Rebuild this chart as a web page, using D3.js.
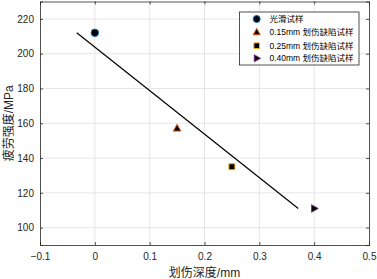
<!DOCTYPE html>
<html><head><meta charset="utf-8">
<script src="https://cdn.jsdelivr.net/npm/d3@7"></script>
<style>body{margin:0;background:#fff;}svg{display:block;}</style>
</head><body>
<svg id="c" width="377" height="279"></svg>
<script>
const seriesNames = ["光滑试样", "0.15mm 划伤缺陷试样", "0.25mm 划伤缺陷试样", "0.40mm 划伤缺陷试样"];
const depths = [0, 0.15, 0.25, 0.40];
const strengths = [212, 157, 135, 111];
const markerTypes = ["circle", "triangleUp", "square", "triangleRight"];
const edgeColors = ["#0072BD", "#D95319", "#EDB120", "#7E2F8E"];
const fitX = [-0.033, 0.371];
const fitY = [212, 111];
const xTicks = [-0.1, 0, 0.1, 0.2, 0.3, 0.4, 0.5];
const yTicks = [100, 120, 140, 160, 180, 200, 220];

const svg = d3.select("#c");
const L = 40, R = 369, T = 1.5, B = 245;
const x = d3.scaleLinear().domain([-0.1, 0.5]).range([L, R]);
const y = d3.scaleLinear().domain([90, 230]).range([B, T]);
const axisColor = "#262626";
const tickFont = "Liberation Sans, Arial, sans-serif";
const cjkFont = "Liberation Sans, 'Noto Sans CJK SC', sans-serif";

// grid
const g = svg.append("g");
g.selectAll(".gx").data(xTicks.slice(1, -1)).join("line")
  .attr("x1", d => x(d)).attr("x2", d => x(d)).attr("y1", T).attr("y2", B)
  .attr("stroke", "#e6e6e6").attr("stroke-width", 1);
g.selectAll(".gy").data(yTicks).join("line")
  .attr("x1", L).attr("x2", R).attr("y1", d => y(d)).attr("y2", d => y(d))
  .attr("stroke", "#e6e6e6").attr("stroke-width", 1);

// axes
const xAxis = d3.axisBottom(x).tickValues(xTicks).tickSize(-3).tickPadding(8).tickFormat(d3.format("~g"));
const yAxis = d3.axisLeft(y).tickValues(yTicks).tickSize(-3).tickPadding(6);
const xa = svg.append("g").attr("transform", `translate(0,${B})`).call(xAxis);
const ya = svg.append("g").attr("transform", `translate(${L},0)`).call(yAxis);
const xt = svg.append("g").attr("transform", `translate(0,${T})`).call(d3.axisTop(x).tickValues(xTicks).tickSize(-3).tickFormat(""));
const yr = svg.append("g").attr("transform", `translate(${R},0)`).call(d3.axisRight(y).tickValues(yTicks).tickSize(-3).tickFormat(""));
[xa, ya, xt, yr].forEach(a => {
  a.select(".domain").attr("stroke", axisColor).attr("stroke-width", 0.8);
  a.selectAll(".tick line").attr("stroke", axisColor).attr("stroke-width", 0.8);
  a.selectAll("text").attr("font-family", tickFont).attr("font-size", 10).attr("fill", "#262626");
});

// fit line
svg.append("line")
  .attr("x1", x(fitX[0])).attr("y1", y(fitY[0]))
  .attr("x2", x(fitX[1])).attr("y2", y(fitY[1]))
  .attr("stroke", "#000").attr("stroke-width", 1.2);

function markerPath(type, s) {
  const h = s / 2;
  if (type === "circle") return d3.symbol(d3.symbolCircle, Math.PI * h * h)();
  if (type === "square") return `M${-h * 0.8},${-h * 0.8}H${h * 0.8}V${h * 0.8}H${-h * 0.8}Z`;
  if (type === "triangleUp") return `M0,${-h * 1.1}L${h},${h * 0.7}L${-h},${h * 0.7}Z`;
  if (type === "triangleRight") return `M${h * 1.1},0L${-h * 0.7},${h}L${-h * 0.7},${-h}Z`;
}

const pts = depths.map((d, i) => ({ x: d, y: strengths[i], t: markerTypes[i], c: edgeColors[i] }));
svg.selectAll(".pt").data(pts).join("path")
  .attr("transform", d => `translate(${x(d.x)},${y(d.y)})`)
  .attr("d", d => markerPath(d.t, 7.5))
  .attr("fill", "#000").attr("stroke", d => d.c).attr("stroke-width", 1);

// axis labels
svg.append("text").attr("x", (L + R) / 2).attr("y", 277)
  .attr("text-anchor", "middle").attr("font-family", cjkFont).attr("font-size", 12).attr("fill", "#262626")
  .text("划伤深度/mm");
svg.append("text").attr("transform", `translate(13,${(T + B) / 2}) rotate(-90)`)
  .attr("text-anchor", "middle").attr("font-family", cjkFont).attr("font-size", 12).attr("fill", "#262626")
  .text("疲劳强度/MPa");

// legend
const lg = svg.append("g");
lg.append("rect").attr("x", 239.5).attr("y", 12).attr("width", 119.5).attr("height", 53)
  .attr("fill", "#fff").attr("stroke", "#262626").attr("stroke-width", 0.8);
const rows = [19, 32.3, 45.7, 58.3];
seriesNames.forEach((n, i) => {
  lg.append("path").attr("transform", `translate(256.7,${rows[i]})`)
    .attr("d", markerPath(markerTypes[i], 7))
    .attr("fill", "#000").attr("stroke", edgeColors[i]).attr("stroke-width", 1);
  lg.append("text").attr("x", 269.5).attr("y", rows[i] + 3)
    .attr("font-family", cjkFont).attr("font-size", 8.5).attr("fill", "#000").text(n);
});
</script>
</body></html>
